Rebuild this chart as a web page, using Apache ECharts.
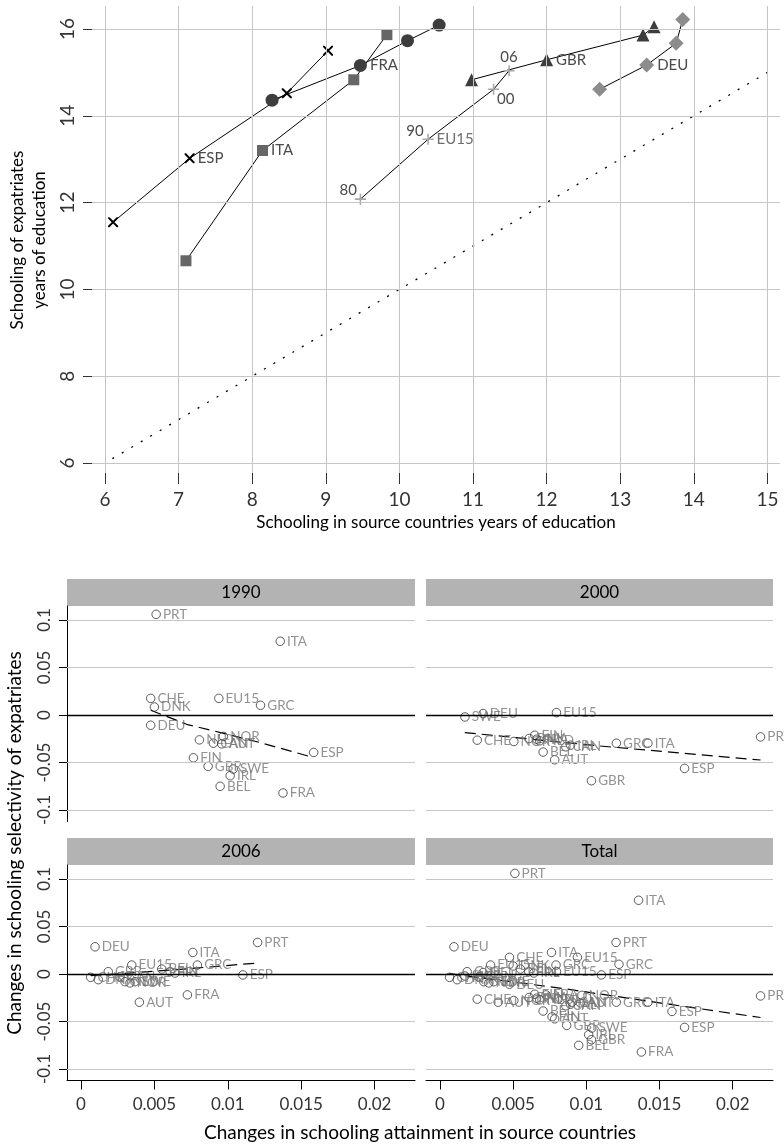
<!DOCTYPE html>
<html>
<head>
<meta charset="utf-8">
<script src="https://cdn.jsdelivr.net/npm/echarts@6/dist/echarts.min.js"></script>
<style>
  html, body { margin: 0; padding: 0; background: #fff; }
  #chart { width: 784px; height: 1146px; }
</style>
</head>
<body>
<div id="chart"></div>
<script>
const FONT = 'Lato, "Open Sans", sans-serif';

// ---------- Upper chart: schooling levels, 1980 / 1990 / 2000 / 2006 ----------
const srcTicks = [6, 7, 8, 9, 10, 11, 12, 13, 14, 15];
const expTicks = [6, 8, 10, 12, 14, 16];
const yearTags = ['80', '90', '00', '06'];

const espSrc  = [6.11, 7.15, 8.47, 9.03];
const espExp  = [11.55, 13.02, 14.52, 15.50];
const fraSrc  = [8.27, 9.47, 10.11, 10.54];
const fraExp  = [14.36, 15.16, 15.73, 16.09];
const itaSrc  = [7.10, 8.14, 9.38, 9.83];
const itaExp  = [10.66, 13.20, 14.83, 15.87];
const gbrSrc  = [10.98, 12.00, 13.31, 13.46];
const gbrExp  = [14.83, 15.29, 15.86, 16.05];
const deuSrc  = [12.72, 13.36, 13.76, 13.85];
const deuExp  = [14.61, 15.17, 15.67, 16.22];
const eu15Src = [9.47, 10.39, 11.28, 11.49];
const eu15Exp = [12.08, 13.46, 14.61, 15.04];
const diagSrc = [6.1, 15.0];

// ---------- Lower panels: changes in attainment vs. selectivity ----------
const attainTicks = [0, 0.005, 0.01, 0.015, 0.02];
const selectTicks = [-0.1, -0.05, 0, 0.05, 0.1];

const c1990 = ['PRT','ITA','CHE','DNK','EU15','GRC','DEU','ESP','NLD','NOR','CAN','AUT','FIN','GBR','SWE','IRL','BEL','FRA'];
const a1990 = [0.00512,0.01357,0.00475,0.00500,0.00939,0.01223,0.00475,0.01585,0.00807,0.00970,0.00902,0.00959,0.00766,0.00866,0.01037,0.01016,0.00948,0.01376];
const s1990 = [0.1059,0.0776,0.0175,0.0084,0.0175,0.0102,-0.0108,-0.0394,-0.0262,-0.0225,-0.0297,-0.0304,-0.0451,-0.0541,-0.0569,-0.0639,-0.0751,-0.0821];

const c2000 = ['SWE','DEU','EU15','CHE','NOR','DNK','FIN','NLD','FRA','CAN','IRL','BEL','AUT','GRC','ITA','PRT','ESP','GBR'];
const a2000 = [0.00171,0.00295,0.00796,0.00255,0.00505,0.00610,0.00648,0.00682,0.00660,0.00860,0.00892,0.00705,0.00784,0.01205,0.01421,0.02190,0.01671,0.01035];
const s2000 = [-0.0021,0.0015,0.0025,-0.0265,-0.0279,-0.0247,-0.0213,-0.0272,-0.0255,-0.0335,-0.0318,-0.0390,-0.0472,-0.0297,-0.0297,-0.0231,-0.0562,-0.0692];

const c2006 = ['DEU','ITA','PRT','EU15','BEL','IRL','GRC','ESP','FRA','AUT','GBR','DNK','CHE','NLD','NOR','SWE','FIN','CAN'];
const a2006 = [0.00096,0.00762,0.01203,0.00346,0.00550,0.00641,0.00793,0.01103,0.00725,0.00398,0.00186,0.00118,0.00066,0.00300,0.00334,0.00368,0.00607,0.00266];
const s2006 = [0.0286,0.0227,0.0332,0.0094,0.0052,0.0010,0.0094,-0.0010,-0.0220,-0.0297,0.0024,-0.0060,-0.0035,-0.0081,-0.0094,-0.0081,0.0024,-0.0031];

// fitted trends
const trend1990X = [0.00475, 0.0072, 0.0095, 0.0122, 0.0145, 0.01585];
const trend1990Y = [0.0050, -0.0098, -0.0185, -0.0290, -0.0390, -0.0449];
const trend2000X = [0.0017, 0.0109, 0.0166, 0.0219];
const trend2000Y = [-0.0185, -0.0326, -0.0403, -0.0474];
const trend2006X = [0.00066, 0.0065, 0.0120];
const trend2006Y = [-0.0018, 0.0045, 0.0115];
const trendTotX  = [0.00066, 0.0086, 0.0142, 0.0219];
const trendTotY  = [0.0003, -0.0157, -0.0286, -0.0458];

// ---------- builders ----------
const xPath = 'path://M0,0L1.4,0L5,3.6L8.6,0L10,0L10,1.4L6.4,5L10,8.6L10,10L8.6,10L5,6.4L1.4,10L0,10L0,8.6L3.6,5L0,1.4Z';
const plusPath = 'path://M4.3,0H5.7V4.3H10V5.7H5.7V10H4.3V5.7H0V4.3H4.3Z';

const ptLabel = { color: '#4a4a4a', fontSize: 15, fontFamily: FONT };

function trajectory(name, xs, ys, symbol, size, color, labelIdx) {
  return {
    type: 'line', xAxisIndex: 0, yAxisIndex: 0, z: 4,
    symbol: symbol, symbolSize: size, showAllSymbol: true,
    lineStyle: { color: '#000', width: 1 },
    itemStyle: { color: color },
    emphasis: { disabled: true },
    data: xs.map((x, i) => ({
      value: [x, ys[i]],
      label: i === labelIdx
        ? Object.assign({ show: true, position: 'right', distance: 3, formatter: name }, ptLabel)
        : { show: false }
    }))
  };
}

const tagPlacement = [
  { position: 'left',  distance: 0, offset: [2, -9] },
  { position: 'left',  distance: 1, offset: [2, -8] },
  { position: 'right', distance: 0, offset: [-2, 10] },
  { position: 'top',   distance: 1, offset: [0, 0] }
];

const series = [];
const xAxes = [];
const yAxes = [];
const grids = [];

// upper chart grid & axes
grids.push({ left: 92, top: 6, width: 688, height: 467 });
xAxes.push({
  gridIndex: 0, type: 'value', min: 5.8234, max: 15.171,
  axisLine: { show: false },
  axisTick: { show: true, length: 11, customValues: srcTicks, lineStyle: { color: '#333' } },
  axisLabel: { customValues: srcTicks, margin: 17, fontSize: 19, color: '#333', fontFamily: FONT },
  splitLine: { show: false }
});
yAxes.push({
  gridIndex: 0, type: 'value', min: 5.77, max: 16.53,
  axisLine: { show: false },
  axisTick: { show: true, length: 9, customValues: expTicks, lineStyle: { color: '#333' } },
  axisLabel: { customValues: expTicks, rotate: 90, align: 'center', verticalAlign: 'bottom',
               margin: 15, fontSize: 19, color: '#333', fontFamily: FONT },
  splitLine: { show: false }
});

const gridGray = { color: '#c6c6c6', width: 1, type: 'solid' };
series.push({
  type: 'line', xAxisIndex: 0, yAxisIndex: 0, data: [], z: 1, silent: true,
  markLine: {
    symbol: ['none', 'none'], silent: true, animation: false, label: { show: false },
    lineStyle: gridGray,
    data: srcTicks.map(v => ({ xAxis: v })).concat(expTicks.map(v => ({ yAxis: v })))
  }
});

// 45-degree reference line
series.push({
  type: 'line', xAxisIndex: 0, yAxisIndex: 0, z: 2, symbol: 'none', silent: true,
  lineStyle: { color: '#000', width: 1.3, type: [2, 9] },
  data: diagSrc.map(v => [v, v])
});

series.push(trajectory('ESP', espSrc, espExp, xPath, 10, '#000', 1));
series.push(trajectory('FRA', fraSrc, fraExp, 'circle', 13, '#3d3d3d', 1));
series.push(trajectory('ITA', itaSrc, itaExp, 'rect', 11, '#666666', 1));
series.push(trajectory('GBR', gbrSrc, gbrExp, 'triangle', 13, '#3d3d3d', 1));
series.push(trajectory('DEU', deuSrc, deuExp, 'diamond', 15, '#8c8c8c', 1));

series.push({
  type: 'line', xAxisIndex: 0, yAxisIndex: 0, z: 4,
  symbol: plusPath, symbolSize: 11, showAllSymbol: true,
  lineStyle: { color: '#000', width: 1 },
  itemStyle: { color: '#a6a6a6' },
  emphasis: { disabled: true },
  data: eu15Src.map((x, i) => ({
    value: [x, eu15Exp[i]],
    label: Object.assign({ show: true, formatter: yearTags[i] }, tagPlacement[i], ptLabel)
  }))
});
series.push({
  type: 'scatter', xAxisIndex: 0, yAxisIndex: 0, z: 5, symbolSize: 11, silent: true,
  itemStyle: { color: 'transparent' },
  label: Object.assign({ show: true, position: 'right', distance: 3, formatter: 'EU15' }, ptLabel),
  data: [[eu15Src[1], eu15Exp[1]]]
});

// ---------- lower panels ----------
const selMin = -0.1121, selMax = 0.1147;
const attMin = -0.00095, attMax = 0.02275;
const panelH = 215.5;

const panels = [
  { title: '1990', left: 67, width: 348, top: 606, names: c1990, xs: a1990, ys: s1990, tx: trend1990X, ty: trend1990Y, yAxisOn: true,  xAxisOn: false },
  { title: '2000', left: 426, width: 347, top: 606, names: c2000, xs: a2000, ys: s2000, tx: trend2000X, ty: trend2000Y, yAxisOn: false, xAxisOn: false },
  { title: '2006', left: 67, width: 348, top: 865, names: c2006, xs: a2006, ys: s2006, tx: trend2006X, ty: trend2006Y, yAxisOn: true,  xAxisOn: true },
  { title: 'Total', left: 426, width: 347, top: 865,
    names: c1990.concat(c2000, c2006), xs: a1990.concat(a2000, a2006), ys: s1990.concat(s2000, s2006),
    tx: trendTotX, ty: trendTotY, yAxisOn: false, xAxisOn: true }
];

const fmtTick = v => String(+v.toFixed(3));
const graphics = [];

panels.forEach((p, idx) => {
  const k = idx + 1;
  grids.push({ left: p.left, top: p.top, width: p.width, height: panelH });
  xAxes.push({
    gridIndex: k, type: 'value', min: attMin, max: attMax,
    axisLine: { show: p.xAxisOn, onZero: false, lineStyle: { color: '#000', width: 1 } },
    axisTick: { show: p.xAxisOn, length: 9, customValues: attainTicks, lineStyle: { color: '#000' } },
    axisLabel: { show: p.xAxisOn, customValues: attainTicks, formatter: fmtTick, margin: 16,
                 fontSize: 17, color: '#333', fontFamily: FONT },
    splitLine: { show: false }
  });
  yAxes.push({
    gridIndex: k, type: 'value', min: selMin, max: selMax,
    axisLine: { show: p.yAxisOn, onZero: false, lineStyle: { color: '#000', width: 1 } },
    axisTick: { show: p.yAxisOn, length: 8, customValues: selectTicks, lineStyle: { color: '#000' } },
    axisLabel: { show: p.yAxisOn, customValues: selectTicks, formatter: fmtTick, rotate: 90,
                 align: 'center', verticalAlign: 'bottom', margin: 14,
                 fontSize: 17, color: '#333', fontFamily: FONT },
    splitLine: { show: false }
  });

  // horizontal grid and zero line
  series.push({
    type: 'line', xAxisIndex: k, yAxisIndex: k, data: [], z: 1, silent: true,
    markLine: {
      symbol: ['none', 'none'], silent: true, animation: false, label: { show: false },
      data: selectTicks.map(v => ({
        yAxis: v,
        lineStyle: v === 0 ? { color: '#000', width: 1.3, type: 'solid' } : gridGray
      }))
    }
  });

  // fitted trend
  series.push({
    type: 'line', xAxisIndex: k, yAxisIndex: k, z: 3, symbol: 'none', silent: true,
    lineStyle: { color: '#000', width: 1.2, type: [11, 6] },
    data: p.tx.map((x, i) => [x, p.ty[i]])
  });

  // country points
  series.push({
    type: 'scatter', xAxisIndex: k, yAxisIndex: k, z: 4, symbol: 'circle', symbolSize: 8.5,
    itemStyle: { color: 'rgba(0,0,0,0)', borderColor: '#333', borderWidth: 1 },
    emphasis: { disabled: true },
    label: { show: true, position: 'right', distance: 2, formatter: q => q.name,
             color: '#777', fontSize: 13.5, fontFamily: FONT },
    data: p.names.map((n, i) => ({ name: n, value: [p.xs[i], p.ys[i]] }))
  });

  // panel header strip
  graphics.push({ type: 'rect', shape: { x: p.left, y: p.top - 27, width: p.width, height: 27 },
                  style: { fill: '#b3b3b3' }, z: 0 });
  graphics.push({ type: 'text', x: p.left + p.width / 2, y: p.top - 13.5, z: 1,
                  style: { text: p.title, fontSize: 17, fontFamily: FONT, fill: '#000',
                           align: 'center', verticalAlign: 'middle' } });
});

// axis titles
graphics.push({ type: 'text', x: 29, y: 240, rotation: Math.PI / 2,
  style: { text: 'Schooling of expatriates\nyears of education', fontSize: 17, lineHeight: 22,
           fontFamily: FONT, fill: '#000', align: 'center', verticalAlign: 'middle' } });
graphics.push({ type: 'text', x: 436, y: 523,
  style: { text: 'Schooling in source countries years of education', fontSize: 17,
           fontFamily: FONT, fill: '#000', align: 'center', verticalAlign: 'middle' } });
graphics.push({ type: 'text', x: 15, y: 843, rotation: Math.PI / 2,
  style: { text: 'Changes in schooling selectivity of expatriates', fontSize: 19,
           fontFamily: FONT, fill: '#000', align: 'center', verticalAlign: 'middle' } });
graphics.push({ type: 'text', x: 420, y: 1133,
  style: { text: 'Changes in schooling attainment in source countries', fontSize: 19,
           fontFamily: FONT, fill: '#000', align: 'center', verticalAlign: 'middle' } });

const chart = echarts.init(document.getElementById('chart'), null, { renderer: 'canvas' });
chart.setOption({
  animation: false,
  backgroundColor: '#fff',
  textStyle: { fontFamily: FONT },
  grid: grids,
  xAxis: xAxes,
  yAxis: yAxes,
  series: series,
  graphic: graphics
});
</script>
</body>
</html>
